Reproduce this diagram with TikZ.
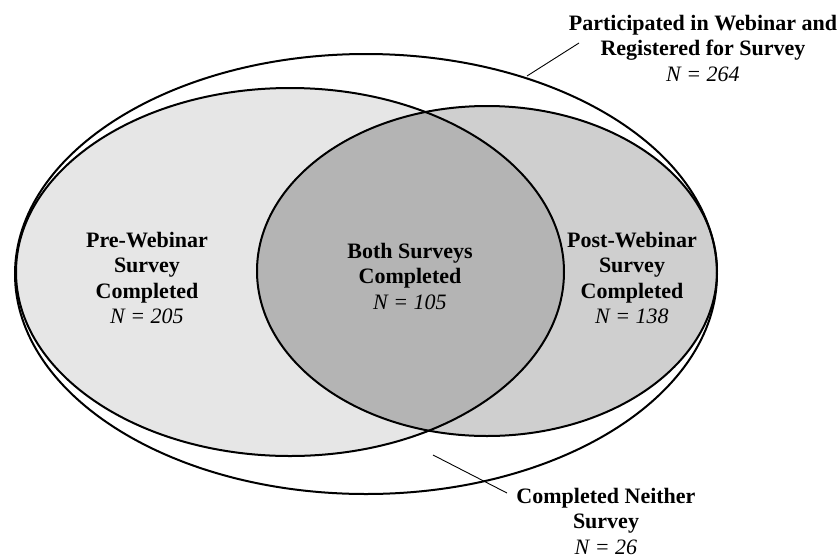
\documentclass[tikz,border=0pt]{standalone}
\usepackage{fontspec}
\setmainfont{Liberation Serif}
\usepackage{tikz}
\definecolor{pregray}{RGB}{230,230,230}
\definecolor{postgray}{RGB}{207,207,207}
\definecolor{bothgray}{RGB}{180,180,180}
\tikzset{
    setline/.style={line width=2pt},
    leader/.style={line width=0.9pt},
    setlabel/.style={align=center,inner sep=0pt,font=\bfseries\fontsize{22}{25.5}\selectfont}
}
\newcommand{\countN}[1]{{\mdseries\itshape N = #1}}
\begin{document}
\begin{tikzpicture}[x=1pt,y=-1pt]
    \useasboundingbox (0,0) rectangle (839,558);

    \fill[pregray] (290,272) ellipse [x radius=274,y radius=184];
    \fill[postgray] (487,271) ellipse [x radius=230,y radius=165];
    \begin{scope}
        \clip (290,272) ellipse [x radius=274,y radius=184];
        \fill[bothgray] (487,271) ellipse [x radius=230,y radius=165];
    \end{scope}

    \draw[setline] (366,274) ellipse [x radius=351,y radius=220];
    \draw[setline] (290,272) ellipse [x radius=274,y radius=184];
    \draw[setline] (487,271) ellipse [x radius=230,y radius=165];

    \node[setlabel] (pre) at (147,278) {Pre-Webinar\\Survey\\Completed\\\countN{205}};
    \node[setlabel] (both) at (410,276) {Both Surveys\\Completed\\\countN{105}};
    \node[setlabel] (post) at (632,278) {Post-Webinar\\Survey\\Completed\\\countN{138}};
    \node[setlabel] (registered) at (703,48) {Participated in Webinar and\\Registered for Survey\\\countN{264}};
    \node[setlabel] (neither) at (606,521) {Completed Neither\\Survey\\\countN{26}};

    \coordinate (registered tip) at (527,76);
    \coordinate (registered end) at (579,43);
    \coordinate (neither tip) at (433,455);
    \coordinate (neither end) at (507,493);
    \draw[leader] (registered tip) -- (registered end);
    \draw[leader] (neither tip) -- (neither end);
\end{tikzpicture}
\end{document}
